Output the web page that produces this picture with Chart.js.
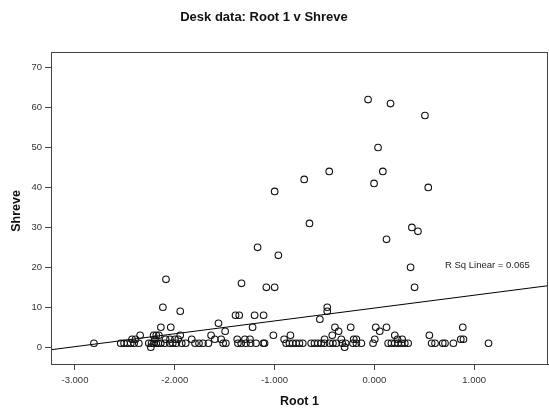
<!DOCTYPE html>
<html>
<head>
<meta charset="utf-8">
<title>Desk data: Root 1 v Shreve</title>
<script src="https://cdn.jsdelivr.net/npm/chart.js@4.4.1/dist/chart.umd.min.js"></script>
<style>
  html, body { margin: 0; padding: 0; background: #fff; }
  #wrap { width: 549px; height: 411px; }
</style>
</head>
<body>
<div id="wrap"><canvas id="scatter" width="549" height="411"></canvas></div>
<script>
// Root 1 / Shreve pairs for the scattered upper points
const upperRoot = [-0.063, 0.162, 0.507, 0.037, -0.452, 0.085, -0.703, -0.003, 0.54, -0.999,
  -0.65, 0.376, 0.437, 0.122, -1.17, -0.962, 0.363, -2.088, -1.331, 0.403, -1.082, -0.999,
  -2.119, -0.472, -1.945, -0.472, -1.391, -1.354, -1.2, -1.11, -0.546, -1.562];
const upperShreve = [62, 61, 58, 50, 44, 44, 42, 41, 40, 39,
  31, 30, 29, 27, 25, 23, 20, 17, 16, 15, 15, 15,
  10, 10, 9, 9, 8, 8, 8, 8, 7, 6];

// low Shreve values: Root 1 scores per Shreve value
const rootShreve5 = [-2.139, -2.04, -1.22, -0.395, -0.237, 0.014, 0.122, 0.886];
const rootShreve4 = [-1.495, -0.358, 0.054];
const rootShreve3 = [-2.347, -2.212, -2.185, -2.159, -1.945, -1.636, -1.012, -0.841, -0.422, 0.205, 0.551];
const rootShreve2 = [-2.428, -2.393, -2.199, -2.092, -2.048, -1.998, -1.965, -1.83, -1.599, -1.535,
  -1.374, -1.297, -1.246, -0.904, -0.499, -0.331, -0.207, -0.18, 0.004, 0.232, 0.279, 0.866, 0.893];
const rootShreve1 = [-2.81, -2.541, -2.508, -2.474, -2.441, -2.407, -2.36, -2.26, -2.232, -2.21,
  -2.185, -2.165, -2.14, -2.1, -2.05, -2.02, -1.985, -1.93, -1.89, -1.797, -1.757, -1.717, -1.663,
  -1.515, -1.488, -1.367, -1.334, -1.287, -1.24, -1.186, -1.113, -1.1, -0.884, -0.851, -0.818,
  -0.784, -0.751, -0.717, -0.633, -0.6, -0.566, -0.532, -0.499, -0.449, -0.415, -0.381, -0.321,
  -0.288, -0.214, -0.18, -0.13, -0.013, 0.138, 0.171, 0.205, 0.238, 0.272, 0.305, 0.339, 0.574,
  0.608, 0.685, 0.708, 0.792, 1.144];
const rootShreve0 = [-2.24, -0.298];

// linear fit
const fitIntercept = 9.8;
const fitSlope = 3.22;
const rSquared = 0.065;

const xTickValues = [-3, -2, -1, 0, 1];
const yTickValues = [0, 10, 20, 30, 40, 50, 60, 70];
const xMin = -3.24, xMax = 1.74;
const yMin = -4.2, yMax = 73.9;

const FONT = '"Liberation Sans", Arial, sans-serif';

const points = upperRoot.map((x, i) => ({ x: x, y: upperShreve[i] }));
[[5, rootShreve5], [4, rootShreve4], [3, rootShreve3], [2, rootShreve2], [1, rootShreve1], [0, rootShreve0]]
  .forEach(([y, xs]) => xs.forEach(x => points.push({ x: x, y: y })));

const fitLine = [xMin, xMax].map(x => ({ x: x, y: fitIntercept + fitSlope * x }));

// frame, title, axis titles and fit label
const decorations = {
  id: 'decorations',
  afterDraw(chart) {
    const ctx = chart.ctx;
    const a = chart.chartArea;
    ctx.save();
    ctx.strokeStyle = '#444';
    ctx.lineWidth = 1;
    ctx.strokeRect(a.left + 0.5, a.top + 0.5, a.right - a.left - 1, a.bottom - a.top);

    ctx.fillStyle = '#111';
    ctx.textAlign = 'center';
    ctx.textBaseline = 'middle';
    ctx.font = 'bold 13px ' + FONT;
    ctx.fillText('Desk data: Root 1 v Shreve', 264, 17);

    ctx.font = 'bold 12.5px ' + FONT;
    ctx.fillText('Root 1', (a.left + a.right) / 2, 402);

    ctx.translate(17, 211);
    ctx.rotate(-Math.PI / 2);
    ctx.fillText('Shreve', 0, 0);
    ctx.restore();

    ctx.save();
    ctx.fillStyle = '#222';
    ctx.font = '9.5px ' + FONT;
    ctx.textAlign = 'left';
    ctx.textBaseline = 'middle';
    ctx.fillText('R Sq Linear = ' + rSquared.toFixed(3), 445, 265);
    ctx.restore();
  }
};

new Chart(document.getElementById('scatter'), {
  type: 'scatter',
  data: {
    datasets: [{
      data: points,
      pointRadius: 3.3,
      pointHoverRadius: 3.3,
      borderWidth: 1.1,
      borderColor: '#111',
      backgroundColor: 'rgba(0,0,0,0)'
    }, {
      type: 'line',
      data: fitLine,
      borderColor: '#000',
      borderWidth: 1,
      pointRadius: 0,
      fill: false
    }]
  },
  options: {
    responsive: false,
    animation: false,
    layout: { autoPadding: false, padding: { top: 52, right: 1, left: 0, bottom: 0 } },
    plugins: {
      legend: { display: false },
      tooltip: { enabled: false }
    },
    scales: {
      x: {
        type: 'linear',
        min: xMin,
        max: xMax,
        afterBuildTicks: s => { s.ticks = xTickValues.map(v => ({ value: v })); },
        afterFit: s => { s.height = 47; s.paddingLeft = 0; s.paddingRight = 0; },
        grid: { drawOnChartArea: false, drawTicks: true, tickLength: 6, color: '#444' },
        border: { display: true, color: '#444' },
        ticks: {
          color: '#333',
          font: { family: FONT, size: 9.5 },
          padding: 5,
          maxRotation: 0,
          callback: v => v.toFixed(3)
        }
      },
      y: {
        type: 'linear',
        min: yMin,
        max: yMax,
        afterBuildTicks: s => { s.ticks = yTickValues.map(v => ({ value: v })); },
        afterFit: s => { s.width = 51; s.paddingTop = 0; s.paddingBottom = 0; },
        grid: { drawOnChartArea: false, drawTicks: true, tickLength: 6, color: '#444' },
        border: { display: true, color: '#444' },
        ticks: {
          color: '#333',
          font: { family: FONT, size: 9.5 },
          padding: 3,
          callback: v => String(v)
        }
      }
    }
  },
  plugins: [decorations]
});
</script>
</body>
</html>
